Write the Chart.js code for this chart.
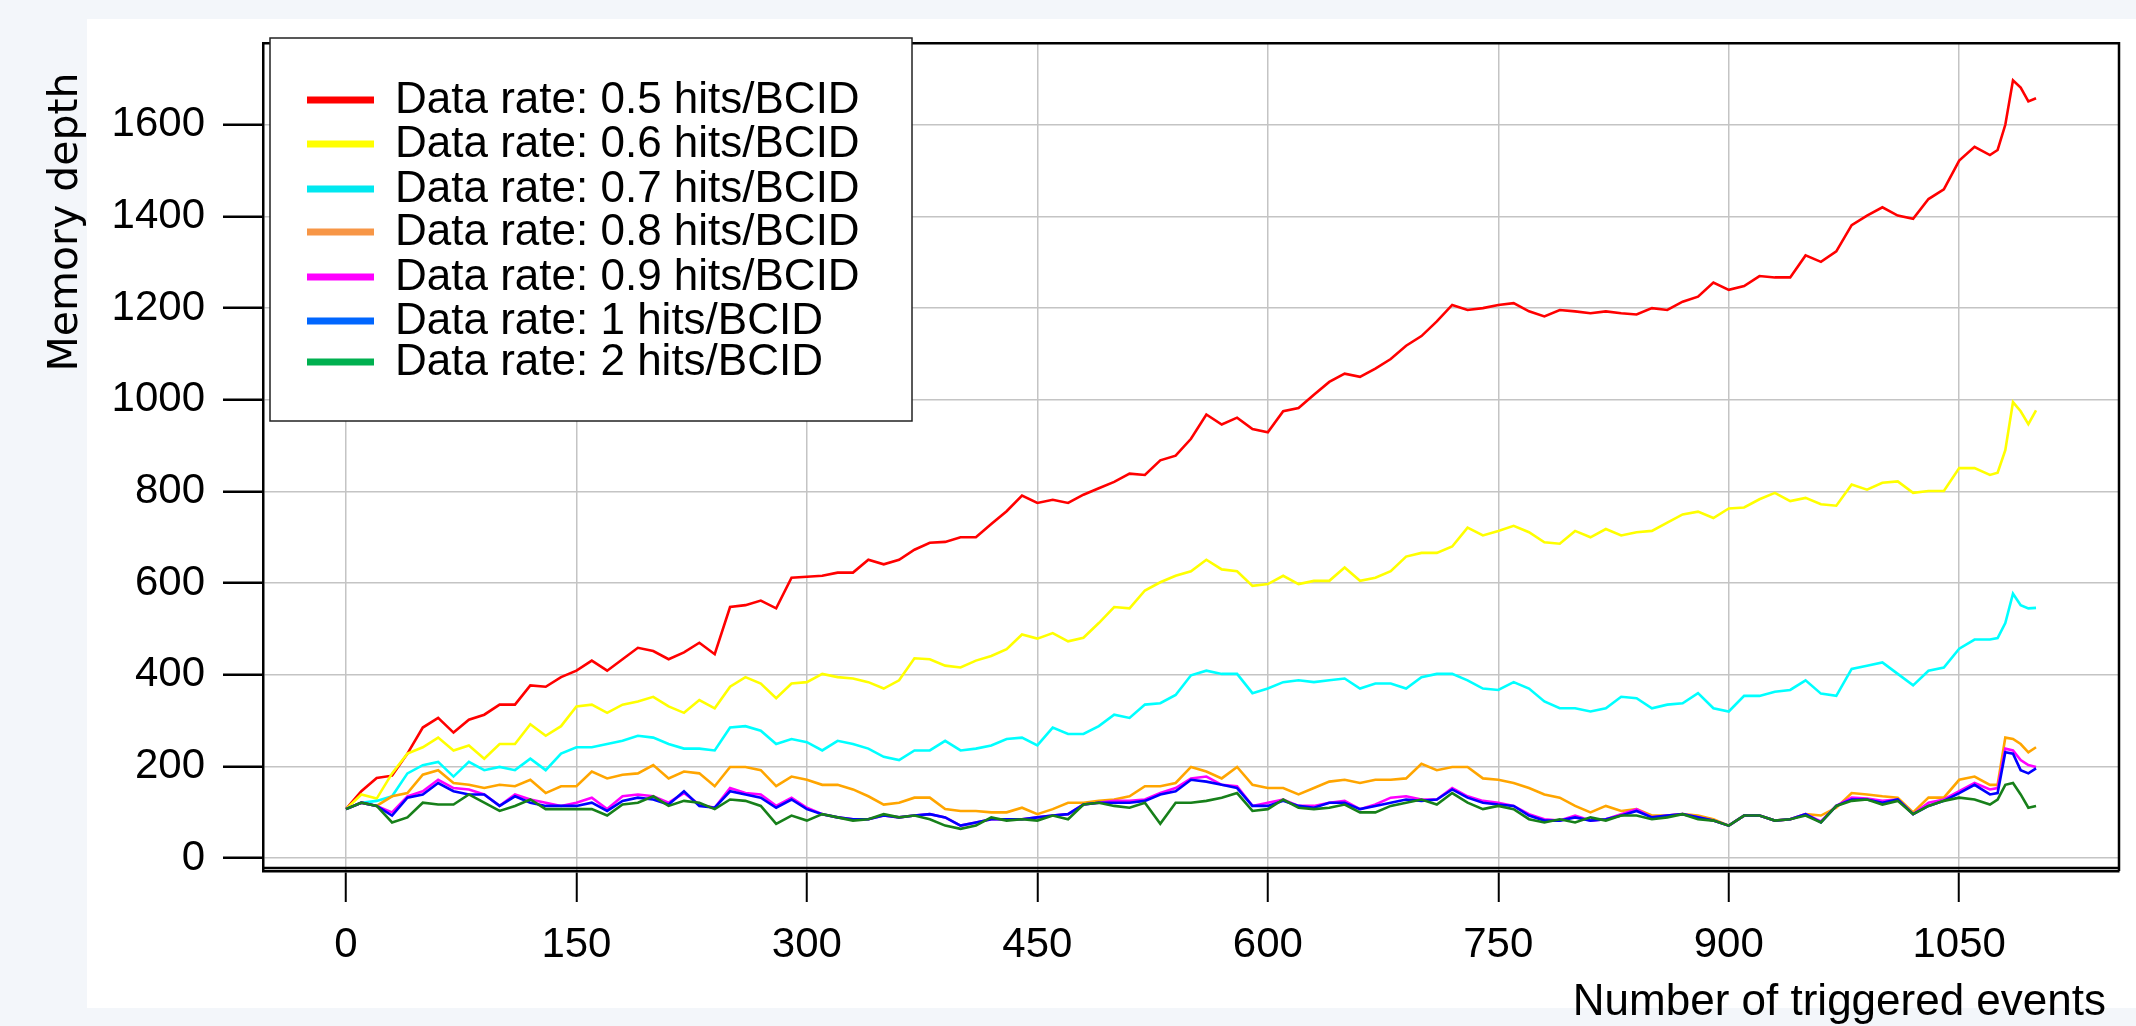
<!DOCTYPE html>
<html>
<head>
<meta charset="utf-8">
<title>Memory depth vs triggered events</title>
<script src="https://cdn.jsdelivr.net/npm/chart.js@4.4.1/dist/chart.umd.min.js"></script>
<style>
  html, body { margin: 0; padding: 0; background: #f3f6fa; overflow: hidden; }
  #wrap { position: relative; width: 2136px; height: 1026px; }
</style>
</head>
<body>
<div id="wrap"><canvas id="memChart"></canvas></div>
<script>
// x positions (number of triggered events)
const events = [
  0,10,20,30,40,50,60,70,80,90,
  100,110,120,130,140,150,160,170,180,190,
  200,210,220,230,240,250,260,270,280,290,
  300,310,320,330,340,350,360,370,380,390,
  400,410,420,430,440,450,460,470,480,490,
  500,510,520,530,540,550,560,570,580,590,
  600,610,620,630,640,650,660,670,680,690,
  700,710,720,730,740,750,760,770,780,790,
  800,810,820,830,840,850,860,870,880,890,
  900,910,920,930,940,950,960,970,980,990,
  1000,1010,1020,1030,1040,1050,1060,1070,
  1075,1080,1085,1090,1095,1100
];

const rate05 = [
  107,146,175,180,228,285,306,274,302,313,
  335,335,377,374,395,409,431,409,434,459,
  452,434,449,470,445,548,552,562,545,612,
  614,616,623,623,651,641,651,673,688,690,
  700,700,729,757,791,775,782,775,793,807,
  821,839,836,868,878,915,968,946,961,936,
  929,975,982,1011,1039,1057,1050,1068,1089,1118,
  1139,1171,1207,1196,1200,1207,1211,1193,1182,1196,
  1193,1189,1193,1189,1186,1200,1196,1214,1225,1256,
  1240,1248,1270,1267,1267,1315,1301,1324,1381,1402,
  1420,1402,1395,1438,1459,1522,1552,1534,
  1545,1600,1697,1681,1651,1658
];
const rate06 = [
  107,139,130,185,228,242,263,235,246,217,
  249,249,292,267,288,331,335,317,335,342,
  352,331,317,345,327,374,395,381,349,381,
  384,402,395,392,384,370,388,436,434,420,
  416,431,441,456,488,479,491,473,481,513,
  548,545,584,602,616,626,651,630,626,594,
  598,616,598,605,605,634,605,612,626,658,
  666,666,680,721,704,714,725,711,689,686,
  714,700,718,704,711,714,732,750,756,742,
  763,765,783,797,779,786,772,769,815,804,
  819,822,797,801,801,851,851,836,
  841,890,995,975,947,977
];
const rate07 = [
  107,121,125,135,185,203,210,178,210,192,
  199,192,217,192,228,242,242,249,256,267,
  263,249,239,239,235,285,288,278,249,260,
  253,235,256,249,239,221,214,235,235,256,
  235,239,246,260,263,246,285,271,271,288,
  313,306,335,338,356,399,409,402,402,360,
  370,384,388,384,388,392,370,381,381,370,
  395,402,402,388,370,367,384,370,342,327,
  327,320,327,352,349,327,335,338,360,327,
  320,354,354,363,367,388,359,354,413,420,
  427,402,377,409,416,457,477,477,
  480,513,577,552,545,546
];
const rate08 = [
  107,121,114,135,142,182,192,164,160,153,
  160,157,171,142,157,157,189,174,182,185,
  203,174,189,185,157,199,199,192,157,178,
  171,160,160,150,135,117,121,132,132,107,
  103,103,100,100,110,96,107,121,121,125,
  128,135,157,157,164,199,189,174,199,160,
  153,153,139,153,167,171,164,171,171,174,
  206,192,199,199,174,171,164,153,139,132,
  114,100,114,103,107,93,93,96,93,85,
  71,93,93,82,85,96,93,110,142,139,
  135,132,100,132,132,171,178,160,
  160,263,260,249,231,242
];
const rate09 = [
  107,121,114,100,135,146,171,153,150,139,
  114,139,128,121,114,121,132,107,135,139,
  135,121,142,117,110,153,142,139,114,132,
  110,96,89,85,85,93,89,93,96,89,
  71,78,85,85,85,89,93,96,117,121,
  125,125,128,142,153,174,178,160,157,114,
  121,128,114,114,121,125,107,117,132,135,
  128,128,153,135,125,121,114,96,85,82,
  93,82,85,96,107,89,93,96,89,82,
  71,93,93,82,85,96,80,114,132,130,
  125,128,96,121,128,146,164,150,
  153,239,235,214,203,199
];
const rate1 = [
  107,121,114,93,132,139,164,146,139,139,
  114,135,121,114,114,114,121,103,125,132,
  128,117,146,114,110,146,139,132,110,128,
  107,96,89,85,85,93,89,93,96,89,
  71,78,85,85,85,89,93,96,117,121,
  121,121,125,139,146,171,167,160,153,114,
  114,125,114,110,121,121,107,114,121,128,
  125,128,150,132,121,117,114,93,82,82,
  89,82,85,93,103,89,93,96,89,82,
  71,93,93,82,85,96,78,114,128,128,
  121,128,96,114,125,142,160,139,
  142,231,228,192,185,196
];
const rate2 = [
  107,121,114,78,89,121,117,117,139,121,
  103,114,128,107,107,107,107,93,117,121,
  135,114,125,121,107,128,125,114,75,93,
  82,96,89,82,85,96,89,93,85,71,
  64,71,89,82,85,82,93,85,117,121,
  114,110,121,75,121,121,125,132,142,103,
  107,128,110,107,110,117,100,100,114,121,
  128,117,142,121,107,114,107,85,78,85,
  78,89,82,93,93,85,89,96,85,82,
  71,93,93,82,85,93,78,114,125,128,
  117,125,96,114,125,132,128,117,
  128,160,164,139,110,114
];

const seriesLabels = [
  'Data rate: 0.5 hits/BCID',
  'Data rate: 0.6 hits/BCID',
  'Data rate: 0.7 hits/BCID',
  'Data rate: 0.8 hits/BCID',
  'Data rate: 0.9 hits/BCID',
  'Data rate: 1 hits/BCID',
  'Data rate: 2 hits/BCID'
];
const seriesValues = [rate05, rate06, rate07, rate08, rate09, rate1, rate2];
const lineColors = ['#ff0000', '#ffff00', '#00ffff', '#ffa500', '#ff00ff', '#0000ff', '#17801a'];
const legendColors = ['#ff0000', '#ffff00', '#00e8f0', '#f79646', '#ff00ff', '#0066ff', '#00b050'];

const xTicks = [0, 150, 300, 450, 600, 750, 900, 1050];
const yTicks = [0, 200, 400, 600, 800, 1000, 1200, 1400, 1600];

const TICK_FONT = 'Liberation Sans, Arial, sans-serif';

// page background + framed plot, legend box and axis titles
const decorPlugin = {
    id: 'decor',
    beforeDraw(chart) {
        const ctx = chart.ctx;
        ctx.save();
        ctx.fillStyle = '#f3f6fa';
        ctx.fillRect(0, 0, chart.width, chart.height);
        ctx.fillStyle = '#ffffff';
        ctx.fillRect(87, 19, chart.width - 87, 989);
        ctx.restore();
    },
    afterDraw(chart) {
        const ctx = chart.ctx;
        const a = chart.chartArea;
        ctx.save();

        // frame: top, right and doubled bottom line
        ctx.strokeStyle = '#000';
        ctx.lineWidth = 2.5;
        ctx.beginPath();
        ctx.moveTo(a.left, a.top);
        ctx.lineTo(a.right, a.top);
        ctx.lineTo(a.right, a.bottom);
        ctx.moveTo(a.left, a.bottom - 3);
        ctx.lineTo(a.right, a.bottom - 3);
        ctx.stroke();

        // legend box
        const box = { x: 270, y: 38, w: 642, h: 383 };
        ctx.fillStyle = '#fff';
        ctx.fillRect(box.x, box.y, box.w, box.h);
        ctx.strokeStyle = '#222';
        ctx.lineWidth = 1.5;
        ctx.strokeRect(box.x, box.y, box.w, box.h);

        const rowY = [100, 144, 189, 232, 277, 321, 362];
        ctx.font = '44px ' + TICK_FONT;
        ctx.textBaseline = 'middle';
        ctx.textAlign = 'left';
        chart.data.datasets.forEach((ds, i) => {
            const y = rowY[i];
            ctx.strokeStyle = legendColors[i];
            ctx.lineWidth = 7;
            ctx.beginPath();
            ctx.moveTo(307, y);
            ctx.lineTo(374, y);
            ctx.stroke();
            ctx.fillStyle = '#000';
            ctx.fillText(ds.label, 395, y + 1);
        });

        // axis titles
        ctx.fillStyle = '#000';
        ctx.font = '41px "DejaVu Sans", Verdana, sans-serif';
        ctx.textAlign = 'center';
        ctx.textBaseline = 'middle';
        ctx.translate(66, 222);
        ctx.rotate(-Math.PI / 2);
        ctx.fillText('Memory depth', 0, 0);
        ctx.setTransform(1, 0, 0, 1, 0, 0);

        ctx.font = '44px ' + TICK_FONT;
        ctx.textAlign = 'right';
        ctx.textBaseline = 'alphabetic';
        ctx.fillText('Number of triggered events', 2106, 1015);
        ctx.restore();
    }
};

const ctx = document.getElementById('memChart').getContext('2d');
new Chart(ctx, {
    type: 'line',
    data: {
        datasets: seriesValues.map((vals, i) => ({
            label: seriesLabels[i],
            data: events.map((e, j) => ({ x: e, y: vals[j] })),
            borderColor: lineColors[i],
            backgroundColor: lineColors[i],
            borderWidth: 2.6,
            pointRadius: 0,
            tension: 0,
            fill: false,
            order: seriesValues.length - i
        }))
    },
    options: {
        responsive: true,
        maintainAspectRatio: false,
        animation: false,
        devicePixelRatio: 1,
        layout: { padding: { left: 0, top: 28, right: 17, bottom: 0 } },
        plugins: {
            legend: { display: false },
            tooltip: { enabled: false }
        },
        scales: {
            x: {
                type: 'linear',
                min: -54,
                max: 1154,
                afterBuildTicks: (axis) => { axis.ticks = xTicks.map(v => ({ value: v })); },
                afterFit: (scale) => { scale.height = 155; },
                grid: {
                    color: '#c4c4c4',
                    lineWidth: 1.5,
                    tickColor: '#000',
                    tickWidth: 2,
                    tickLength: 31
                },
                border: { display: true, color: '#000', width: 2.5 },
                ticks: {
                    color: '#000',
                    padding: 18,
                    maxRotation: 0,
                    font: { family: TICK_FONT, size: 42 },
                    callback: (v) => String(v)
                }
            },
            y: {
                type: 'linear',
                min: -28,
                max: 1778,
                afterBuildTicks: (axis) => { axis.ticks = yTicks.map(v => ({ value: v })); },
                afterFit: (scale) => { scale.width = 263; },
                grid: {
                    color: '#c4c4c4',
                    lineWidth: 1.5,
                    tickColor: '#000',
                    tickWidth: 2.5,
                    tickLength: 40
                },
                border: { display: true, color: '#000', width: 2.5 },
                ticks: {
                    color: '#000',
                    padding: 18,
                    font: { family: TICK_FONT, size: 42 },
                    callback: (v) => String(v)
                }
            }
        }
    },
    plugins: [decorPlugin]
});
</script>
</body>
</html>
